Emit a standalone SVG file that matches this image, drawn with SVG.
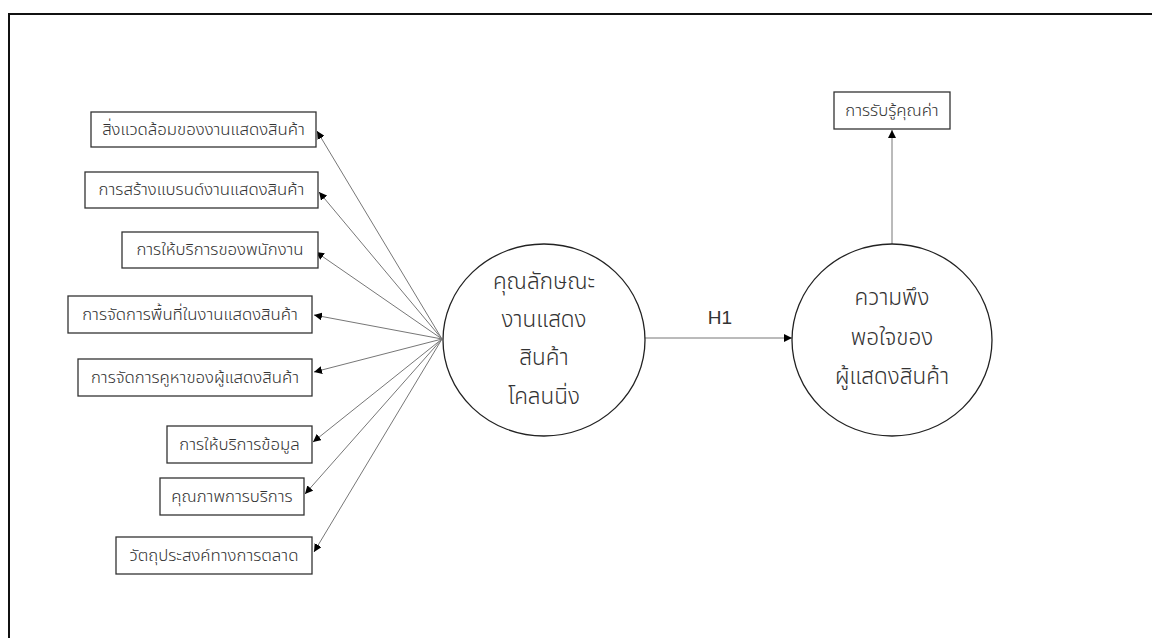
<svg xmlns="http://www.w3.org/2000/svg" width="1152" height="638" viewBox="0 0 1152 638">
<defs>
<marker id="ah" viewBox="0 0 10 10" refX="10" refY="5" markerWidth="8" markerHeight="8" markerUnits="userSpaceOnUse" orient="auto">
<path d="M0,0 L10,5 L0,10 z" fill="#000"/>
</marker>
</defs>
<style>
.box{fill:#fff;stroke:#333;stroke-width:1.3}
.ell{fill:#fff;stroke:#222;stroke-width:1.3}
.t{font-family:"Noto Sans Thai","Noto Sans","DejaVu Sans",sans-serif;font-size:16.8px;font-weight:300;fill:#333;text-anchor:middle;dominant-baseline:central}
.big{font-size:22.5px}
.con{stroke:#777;stroke-width:1;fill:none;marker-end:url(#ah)}
</style>
<rect width="1152" height="638" fill="#fff"/>
<path d="M9,640 V14 H1154" fill="none" stroke="#111" stroke-width="2"/>
<g id="connectors">
<line class="con" x1="442" y1="339" x2="317" y2="131"/>
<line class="con" x1="442" y1="339" x2="319" y2="192"/>
<line class="con" x1="442" y1="339" x2="316" y2="252"/>
<line class="con" x1="442" y1="339" x2="314" y2="315"/>
<line class="con" x1="442" y1="339" x2="314" y2="372"/>
<line class="con" x1="442" y1="339" x2="313" y2="442"/>
<line class="con" x1="442" y1="339" x2="305" y2="494"/>
<line class="con" x1="442" y1="339" x2="314" y2="552"/>
<line class="con" x1="645" y1="338" x2="792" y2="338"/>
<line class="con" x1="892" y1="244" x2="892" y2="130"/>
<text class="t" x="720" y="317" style="font-family:'Liberation Sans','Noto Sans',sans-serif;font-size:19px;font-weight:400">H1</text>
</g>
<g id="n1"><rect class="box" x="91" y="112" width="225" height="35"/><text class="t" x="203.5" y="129.5">สิ่งแวดล้อมของงานแสดงสินค้า</text></g>
<g id="n2"><rect class="box" x="85" y="172" width="233" height="36"/><text class="t" x="201.5" y="190">การสร้างแบรนด์งานแสดงสินค้า</text></g>
<g id="n3"><rect class="box" x="122" y="232" width="196" height="36"/><text class="t" x="220" y="250">การให้บริการของพนักงาน</text></g>
<g id="n4"><rect class="box" x="68" y="296" width="244" height="37"/><text class="t" x="190" y="314.5">การจัดการพื้นที่ในงานแสดงสินค้า</text></g>
<g id="n5"><rect class="box" x="78" y="359" width="234" height="37"/><text class="t" x="195" y="377.5">การจัดการคูหาของผู้แสดงสินค้า</text></g>
<g id="n6"><rect class="box" x="167" y="426" width="145" height="37"/><text class="t" x="239.5" y="444.5">การให้บริการข้อมูล</text></g>
<g id="n7"><rect class="box" x="160" y="478" width="144" height="37"/><text class="t" x="232" y="496.5">คุณภาพการบริการ</text></g>
<g id="n8"><rect class="box" x="116" y="537" width="196" height="37"/><text class="t" x="214" y="555.5">วัตถุประสงค์ทางการตลาด</text></g>
<g id="n9"><rect class="box" x="834" y="92" width="116" height="37"/><text class="t" x="892" y="110.5">การรับรู้คุณค่า</text></g>
<g id="c1"><ellipse class="ell" cx="544" cy="340" rx="101" ry="96"/>
<text class="t big" x="544" y="282">คุณลักษณะ</text>
<text class="t big" x="544" y="320">งานแสดง</text>
<text class="t big" x="544" y="358">สินค้า</text>
<text class="t big" x="544" y="397">โคลนนิ่ง</text></g>
<g id="c2"><ellipse class="ell" cx="892" cy="340" rx="100" ry="96"/>
<text class="t big" x="892" y="298">ความพึง</text>
<text class="t big" x="892" y="338">พอใจของ</text>
<text class="t big" x="892" y="377">ผู้แสดงสินค้า</text></g>
</svg>
